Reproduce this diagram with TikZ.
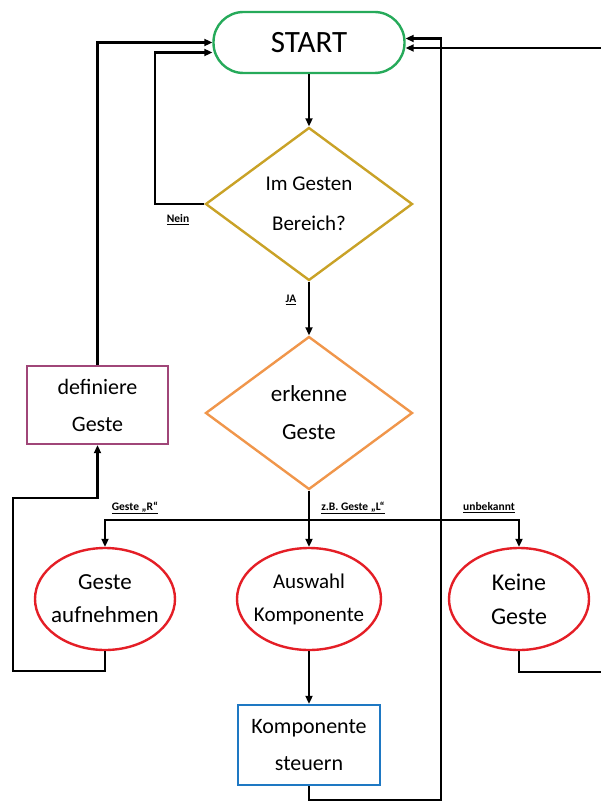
\documentclass[tikz,border=0pt]{standalone}
\usepackage{fontspec}
\setmainfont{Carlito}
\usetikzlibrary{shapes.geometric,arrows.meta}
\definecolor{startgruen}{RGB}{38,170,90}
\definecolor{ocker}{RGB}{201,162,39}
\definecolor{orange}{RGB}{240,150,75}
\definecolor{lila}{RGB}{160,70,120}
\definecolor{rot}{RGB}{228,30,38}
\definecolor{blau}{RGB}{30,120,195}

\begin{document}
\begin{tikzpicture}[x=1pt,y=-1pt,
    startnode/.style={draw=startgruen,line width=2.4pt,rounded corners=30pt,
      minimum width=191pt,minimum height=61pt,font=\fontsize{31}{36}\selectfont},
    raute/.style={diamond,line width=2.4pt,inner sep=0pt,minimum width=207pt,
      minimum height=153pt,align=center},
    kasten/.style={draw,line width=2.4pt,inner sep=0pt,align=center,
      font=\fontsize{22}{37}\selectfont},
    oval/.style={ellipse,draw=rot,line width=2.4pt,inner xsep=-8pt,inner ysep=0pt,
      minimum width=140pt,minimum height=102pt,align=center},
    pfeil/.style={line width=2.2pt,-{Triangle[length=8pt,width=7pt]}},
    lbl/.style={font=\fontsize{11.5}{13}\selectfont\bfseries}]
  \useasboundingbox (0,0) rectangle (600,805);

  \node[startnode] (start) at (309,42.5) {START};
  \node[raute,draw=ocker,font=\fontsize{21}{40}\selectfont] (bereich) at (309,204) {Im Gesten\\Bereich?};
  \node[raute,draw=orange,font=\fontsize{23}{38}\selectfont] (erkenne) at (309,413) {erkenne\\Geste};
  \node[kasten,draw=lila,minimum width=141pt,minimum height=78pt] (definiere) at (97.5,405) {definiere\\Geste};
  \node[oval,font=\fontsize{23}{33}\selectfont] (aufnehmen) at (105,599) {Geste\\aufnehmen};
  \node[oval,minimum width=144pt,font=\fontsize{21}{33}\selectfont] (auswahl) at (309,599) {Auswahl\\Komponente};
  \node[oval,font=\fontsize{24}{34}\selectfont] (keine) at (519,599) {Keine\\Geste};
  \node[kasten,draw=blau,minimum width=142pt,minimum height=80pt] (steuern) at (309,745) {Komponente\\steuern};

  \coordinate (verteiler) at (309,520);

  \draw[pfeil] (start.south) -- (bereich.north);
  \draw[pfeil] (bereich.west) -- ++(-49,0) |- ([yshift=-10pt]start.west);
  \draw[pfeil] (bereich.south) -- (erkenne.north);
  \draw[line width=2.2pt] (erkenne.south) -- (verteiler);
  \draw[pfeil] (verteiler) -| (aufnehmen.north);
  \draw[pfeil] (verteiler) -- (auswahl.north);
  \draw[pfeil] (verteiler) -| (keine.north);
  \draw[pfeil] (auswahl.south) -- (steuern.north);
  \draw[pfeil] (aufnehmen.south) |- (13,671) |- (97.5,498) -- (definiere.south);
  \draw[pfeil] (definiere.north) |- (start.west);
  \draw[pfeil] (steuern.south) |- (441,800) |- ([yshift=4pt]start.east);
  \draw[pfeil] (keine.south) |- (602,672) |- ([yshift=-5.5pt]start.east);

  \node[lbl] (nein) at (178,220) {\underline{Nein}};
  \node[lbl] (ja) at (291,300) {\underline{JA}};
  \node[lbl] (geste r) at (135,508) {\underline{Geste „R“}};
  \node[lbl] (geste l) at (353,508) {\underline{z.B. Geste „L“}};
  \node[lbl] (unbekannt) at (489,508) {\underline{unbekannt}};
\end{tikzpicture}
\end{document}
